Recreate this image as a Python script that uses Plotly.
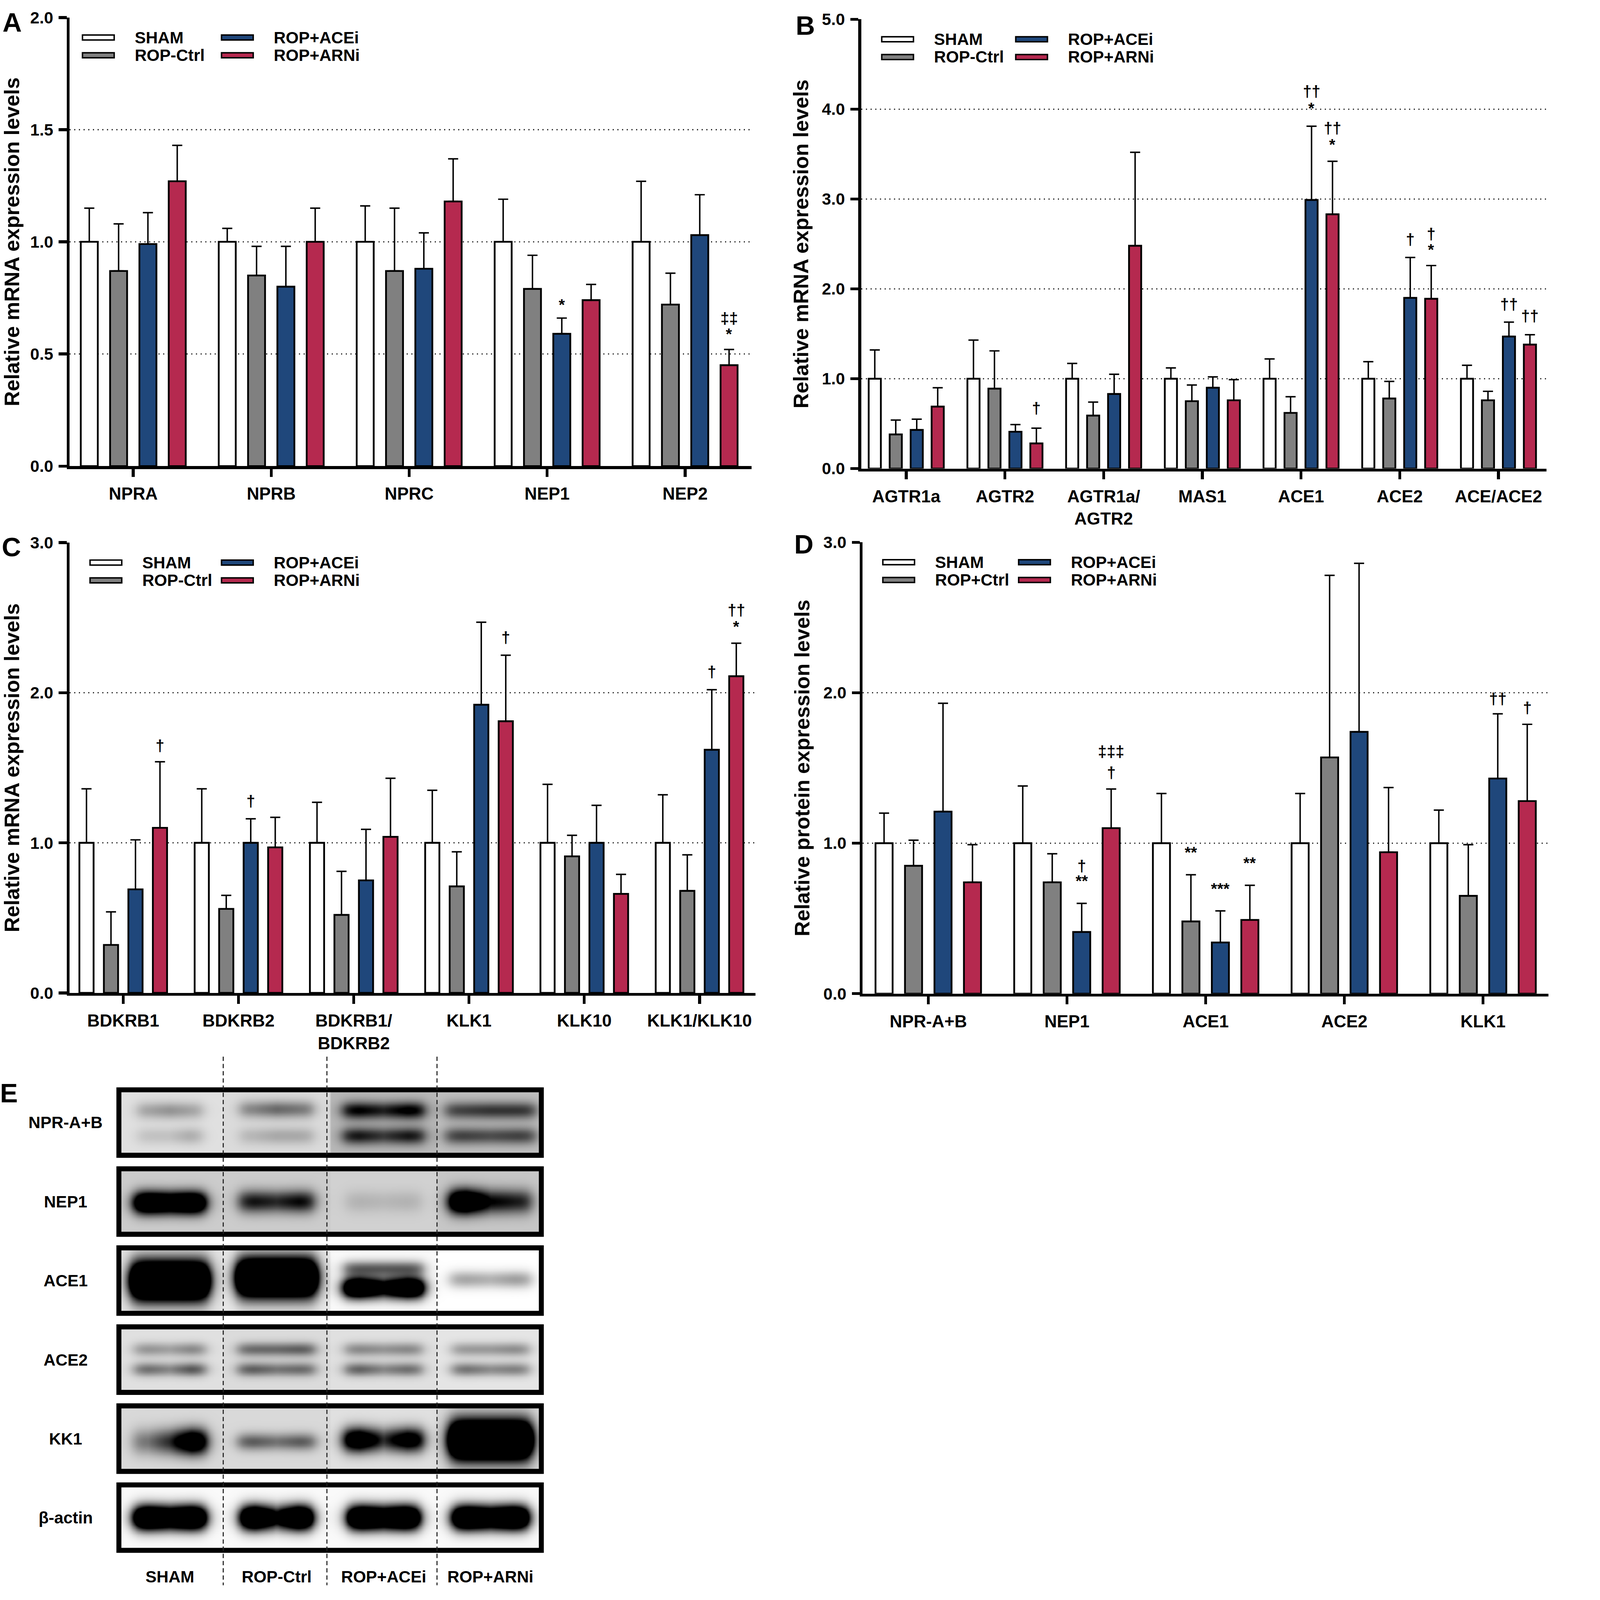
import numpy as np
import plotly.graph_objects as go

W, H = 4299, 4442
FONT = "Liberation Sans, Arial, Helvetica, sans-serif"

groups_mrna = ["SHAM", "ROP-Ctrl", "ROP+ACEi", "ROP+ARNi"]
groups_prot = ["SHAM", "ROP+Ctrl", "ROP+ACEi", "ROP+ARNi"]
bar_colors = ["#ffffff", "#808080", "#1f477b", "#b5294f"]

# ---------------- Panel A ----------------
a_cats = ["NPRA", "NPRB", "NPRC", "NEP1", "NEP2"]
a_sham = [1.00, 1.00, 1.00, 1.00, 1.00]
a_ctrl = [0.87, 0.85, 0.87, 0.79, 0.72]
a_acei = [0.99, 0.80, 0.88, 0.59, 1.03]
a_arni = [1.27, 1.00, 1.18, 0.74, 0.45]
a_sham_e = [0.15, 0.06, 0.16, 0.19, 0.27]
a_ctrl_e = [0.21, 0.13, 0.28, 0.15, 0.14]
a_acei_e = [0.14, 0.18, 0.16, 0.07, 0.18]
a_arni_e = [0.16, 0.15, 0.19, 0.07, 0.07]
a_marks = [("NEP1", 2, "*", 0.72), ("NEP2", 3, "*", 0.59), ("NEP2", 3, "‡‡", 0.66)]

# ---------------- Panel B ----------------
b_cats = ["AGTR1a", "AGTR2", "AGTR1a/<br>AGTR2", "MAS1", "ACE1", "ACE2", "ACE/ACE2"]
b_sham = [1.00, 1.00, 1.00, 1.00, 1.00, 1.00, 1.00]
b_ctrl = [0.38, 0.89, 0.59, 0.75, 0.62, 0.78, 0.76]
b_acei = [0.43, 0.41, 0.83, 0.90, 2.99, 1.90, 1.47]
b_arni = [0.69, 0.28, 2.48, 0.76, 2.83, 1.89, 1.38]
b_sham_e = [0.32, 0.43, 0.17, 0.12, 0.22, 0.19, 0.15]
b_ctrl_e = [0.16, 0.42, 0.15, 0.18, 0.18, 0.19, 0.10]
b_acei_e = [0.12, 0.08, 0.22, 0.12, 0.82, 0.45, 0.16]
b_arni_e = [0.21, 0.17, 1.04, 0.23, 0.59, 0.37, 0.11]
b_marks = [("AGTR2", 3, "†", 0.67),
           ("ACE1", 2, "*", 4.01), ("ACE1", 2, "††", 4.20),
           ("ACE1", 3, "*", 3.61), ("ACE1", 3, "††", 3.79),
           ("ACE2", 2, "†", 2.55),
           ("ACE2", 3, "*", 2.44), ("ACE2", 3, "†", 2.61),
           ("ACE/ACE2", 2, "††", 1.83), ("ACE/ACE2", 3, "††", 1.70)]

# ---------------- Panel C ----------------
c_cats = ["BDKRB1", "BDKRB2", "BDKRB1/<br>BDKRB2", "KLK1", "KLK10", "KLK1/KLK10"]
c_sham = [1.00, 1.00, 1.00, 1.00, 1.00, 1.00]
c_ctrl = [0.32, 0.56, 0.52, 0.71, 0.91, 0.68]
c_acei = [0.69, 1.00, 0.75, 1.92, 1.00, 1.62]
c_arni = [1.10, 0.97, 1.04, 1.81, 0.66, 2.11]
c_sham_e = [0.36, 0.36, 0.27, 0.35, 0.39, 0.32]
c_ctrl_e = [0.22, 0.09, 0.29, 0.23, 0.14, 0.24]
c_acei_e = [0.33, 0.16, 0.34, 0.55, 0.25, 0.40]
c_arni_e = [0.44, 0.20, 0.39, 0.44, 0.13, 0.22]
c_marks = [("BDKRB1", 3, "†", 1.65), ("BDKRB2", 2, "†", 1.28),
           ("KLK1", 3, "†", 2.37), ("KLK1/KLK10", 2, "†", 2.14),
           ("KLK1/KLK10", 3, "*", 2.44), ("KLK1/KLK10", 3, "††", 2.55)]

# ---------------- Panel D ----------------
d_cats = ["NPR-A+B", "NEP1", "ACE1", "ACE2", "KLK1"]
d_sham = [1.00, 1.00, 1.00, 1.00, 1.00]
d_ctrl = [0.85, 0.74, 0.48, 1.57, 0.65]
d_acei = [1.21, 0.41, 0.34, 1.74, 1.43]
d_arni = [0.74, 1.10, 0.49, 0.94, 1.28]
d_sham_e = [0.20, 0.38, 0.33, 0.33, 0.22]
d_ctrl_e = [0.17, 0.19, 0.31, 1.21, 0.34]
d_acei_e = [0.72, 0.19, 0.21, 1.12, 0.43]
d_arni_e = [0.25, 0.26, 0.23, 0.43, 0.51]
d_marks = [("NEP1", 2, "**", 0.75), ("NEP1", 2, "†", 0.85),
           ("NEP1", 3, "†", 1.47), ("NEP1", 3, "‡‡‡", 1.61),
           ("ACE1", 1, "**", 0.94), ("ACE1", 2, "***", 0.70), ("ACE1", 3, "**", 0.87),
           ("KLK1", 2, "††", 1.96), ("KLK1", 3, "†", 1.90)]

# ---------------- Panel E (western blot) ----------------
blot_rows = ["NPR-A+B", "NEP1", "ACE1", "ACE2", "KK1", "β-actin"]
blot_lanes = ["SHAM", "ROP-Ctrl", "ROP+ACEi", "ROP+ARNi"]
# lane background darkness per row
blot_bg = [[0.12, 0.14, 0.28, 0.25],
           [0.20, 0.20, 0.18, 0.22],
           [0.10, 0.08, 0.02, 0.00],
           [0.12, 0.14, 0.12, 0.10],
           [0.15, 0.15, 0.12, 0.15],
           [0.02, 0.02, 0.02, 0.02]]
# bands: (lane, vertical centre, vertical spread, darkness left, mid, right, half width)
blot_bands = [
    [(0, 0.30, 0.10, 0.25, 0.30, 0.25, 0.30), (0, 0.72, 0.10, 0.12, 0.12, 0.20, 0.30),
     (1, 0.28, 0.10, 0.35, 0.45, 0.40, 0.34), (1, 0.72, 0.10, 0.15, 0.20, 0.20, 0.34),
     (2, 0.30, 0.10, 0.75, 0.60, 0.80, 0.38), (2, 0.72, 0.10, 0.65, 0.50, 0.65, 0.38),
     (3, 0.30, 0.10, 0.50, 0.55, 0.55, 0.42), (3, 0.72, 0.10, 0.50, 0.45, 0.50, 0.42)],
    [(0, 0.52, 0.13, 1.60, 1.40, 1.60, 0.33), (1, 0.50, 0.13, 0.75, 0.65, 0.80, 0.35),
     (2, 0.50, 0.13, 0.12, 0.10, 0.12, 0.35), (3, 0.50, 0.14, 1.60, 0.80, 0.70, 0.38)],
    [(0, 0.50, 0.22, 2.50, 2.50, 2.50, 0.36), (1, 0.45, 0.22, 2.50, 2.50, 2.50, 0.37),
     (2, 0.62, 0.12, 2.00, 1.30, 2.00, 0.37), (2, 0.30, 0.09, 0.60, 0.60, 0.60, 0.37),
     (3, 0.48, 0.10, 0.35, 0.30, 0.38, 0.38)],
    [(0, 0.33, 0.08, 0.30, 0.25, 0.35, 0.33), (0, 0.66, 0.08, 0.45, 0.35, 0.55, 0.33),
     (1, 0.33, 0.08, 0.45, 0.45, 0.50, 0.36), (1, 0.66, 0.08, 0.50, 0.40, 0.45, 0.36),
     (2, 0.33, 0.08, 0.35, 0.30, 0.35, 0.36), (2, 0.66, 0.08, 0.50, 0.35, 0.45, 0.36),
     (3, 0.33, 0.08, 0.30, 0.30, 0.35, 0.36), (3, 0.66, 0.08, 0.45, 0.35, 0.40, 0.36)],
    [(0, 0.55, 0.15, 0.40, 0.70, 1.40, 0.34), (1, 0.55, 0.10, 0.50, 0.40, 0.50, 0.36),
     (2, 0.52, 0.14, 1.40, 0.70, 1.20, 0.37), (3, 0.52, 0.22, 2.50, 2.50, 2.50, 0.38)],
    [(0, 0.50, 0.14, 2.20, 1.80, 2.20, 0.33), (1, 0.50, 0.14, 2.20, 1.20, 2.20, 0.33),
     (2, 0.50, 0.14, 2.20, 1.80, 2.20, 0.33), (3, 0.50, 0.14, 2.20, 1.80, 2.20, 0.35)],
]


def pxx(x):
    return x / W


def pxy(y):
    return 1 - y / H


BARGAP = 0.15
GROUPGAP = 0.42
SLOT = (1 - BARGAP) / 4

panels = [
    dict(ax="", cats=a_cats, vals=[a_sham, a_ctrl, a_acei, a_arni],
         errs=[a_sham_e, a_ctrl_e, a_acei_e, a_arni_e], groups=groups_mrna,
         xpx=(193, 2087), ypx=(23, 1283), xr=[-0.462, 4.483], yr=[0, 2.0],
         ticks=[0, 0.5, 1.0, 1.5, 2.0], grid=[0.5, 1.0, 1.5],
         title="Relative mRNA expression levels", marks=a_marks,
         leg=(34, 179, 420, 565), letter=("A", 33, 37)),
    dict(ax="2", cats=b_cats, vals=[b_sham, b_ctrl, b_acei, b_arni],
         errs=[b_sham_e, b_ctrl_e, b_acei_e, b_arni_e], groups=groups_mrna,
         xpx=(2391, 4293), ypx=(28, 1290), xr=[-0.456, 6.485], yr=[0, 5.0],
         ticks=[0, 1, 2, 3, 4, 5], grid=[1, 2, 3, 4],
         title="Relative mRNA expression levels", marks=b_marks,
         leg=(55, 200, 427, 572), letter=("B", 2235, 45)),
    dict(ax="3", cats=c_cats, vals=[c_sham, c_ctrl, c_acei, c_arni],
         errs=[c_sham_e, c_ctrl_e, c_acei_e, c_arni_e], groups=groups_mrna,
         xpx=(193, 2097), ypx=(1498, 2763), xr=[-0.466, 5.484], yr=[0, 3.0],
         ticks=[0, 1, 2, 3], grid=[1, 2],
         title="Relative mRNA expression levels", marks=c_marks,
         leg=(55, 200, 420, 565), letter=("C", 31, 1510)),
    dict(ax="4", cats=d_cats, vals=[d_sham, d_ctrl, d_acei, d_arni],
         errs=[d_sham_e, d_ctrl_e, d_acei_e, d_arni_e], groups=groups_prot,
         xpx=(2395, 4299), ypx=(1497, 2765), xr=[-0.473, 4.472], yr=[0, 3.0],
         ticks=[0, 1, 2, 3], grid=[1, 2],
         title="Relative protein expression levels", marks=d_marks,
         leg=(54, 199, 431, 576), letter=("D", 2231, 1503)),
]

fig = go.Figure()
shapes = []
annotations = []
layout_axes = {}

for p in panels:
    sx = p["ax"]
    xname = "x" + sx
    yname = "y" + sx
    for j in range(4):
        fig.add_trace(go.Bar(
            x=p["cats"], y=p["vals"][j], name=p["groups"][j],
            xaxis=xname, yaxis=yname, showlegend=False,
            marker=dict(color=bar_colors[j], line=dict(color="black", width=5)),
            error_y=dict(type="data", symmetric=False, array=p["errs"][j],
                         arrayminus=[0] * len(p["cats"]), color="black",
                         thickness=4, width=14),
        ))
    x0, x1 = p["xpx"]
    y0, y1 = p["ypx"]
    layout_axes["xaxis" + sx] = dict(
        domain=[pxx(x0), pxx(x1)], anchor=yname, range=p["xr"], type="category",
        showline=True, linecolor="black", linewidth=8, ticks="outside", ticklen=22,
        tickwidth=8, tickcolor="black", showgrid=False, zeroline=False,
        tickfont=dict(family=FONT, size=48, color="black", weight="bold"),
        ticklabelstandoff=6,
    )
    layout_axes["yaxis" + sx] = dict(
        domain=[pxy(y1), pxy(y0)], anchor=xname, range=p["yr"],
        tickvals=p["ticks"], ticktext=["%.1f" % t for t in p["ticks"]],
        showline=True, linecolor="black", linewidth=8, ticks="outside", ticklen=22,
        tickwidth=8, tickcolor="black", showgrid=False, zeroline=False,
        tickfont=dict(family=FONT, size=46, color="black", weight="bold"),
        ticklabelstandoff=6,
        title=dict(text=p["title"], standoff=22,
                   font=dict(family=FONT, size=58, color="black", weight="bold")),
    )
    for g in p["grid"]:
        shapes.append(dict(type="line", xref=xname + " domain", yref=yname,
                           x0=0, x1=1, y0=g, y1=g, layer="below",
                           line=dict(color="black", width=3, dash="3px,10px")))
    # significance marks
    for cat, j, txt, yv in p["marks"]:
        xi = p["cats"].index(cat) + (j - 1.5) * SLOT
        annotations.append(dict(x=xi, y=yv, xref=xname, yref=yname, text=txt,
                                showarrow=False, xanchor="center", yanchor="middle",
                                font=dict(family=FONT, size=44, color="black",
                                          weight="bold")))
    # legend (two columns)
    s1, t1, s2, t2 = p["leg"]
    rows = [y0 + 56, y0 + 106]
    for j in range(4):
        col, row = divmod(j, 2)
        sxp = x0 + (s1 if col == 0 else s2)
        txp = x0 + (t1 if col == 0 else t2)
        yc = rows[row]
        shapes.append(dict(type="rect", xref="paper", yref="paper",
                           x0=pxx(sxp + 2), x1=pxx(sxp + 90), y0=pxy(yc + 7), y1=pxy(yc - 7),
                           fillcolor=bar_colors[j], line=dict(color="black", width=4)))
        annotations.append(dict(x=pxx(txp), y=pxy(yc), xref="paper", yref="paper",
                                text=p["groups"][j], showarrow=False, xanchor="left",
                                yanchor="middle",
                                font=dict(family=FONT, size=46, color="black",
                                          weight="bold")))
    lt, lx, ly = p["letter"]
    annotations.append(dict(x=pxx(lx), y=pxy(ly), xref="paper", yref="paper", text=lt,
                            showarrow=False, xanchor="center", yanchor="middle",
                            font=dict(family=FONT, size=74, color="black", weight="bold")))

# ---------------- Panel E drawing ----------------
E_X0, E_X1 = 323, 1510
E_Y0, E_Y1 = 3028, 4336
PITCH = 222.0
BOXH = 198.0 / PITCH
BORDER = 14.0
bx = BORDER / ((E_X1 - E_X0) / 4.0)
by = BORDER / PITCH

for k in range(len(blot_rows)):
    nx, ny = 220, 50
    u = np.linspace(bx, 4 - bx, nx)
    v = np.linspace(0, 1, ny)
    U, V = np.meshgrid(u, v)
    lane = np.clip(np.floor(U).astype(int), 0, 3)
    Z = np.array(blot_bg[k])[lane]
    for (ln, vc, sv, al, am, ar, hw) in blot_bands[k]:
        loc = U - (ln + 0.5)
        amp = np.interp(loc, [-hw * 0.6, 0, hw * 0.6], [al, am, ar])
        win = 1 / (1 + np.exp((np.abs(loc) - hw) / 0.035))
        Z = Z + amp * win * np.exp(-0.5 * ((V - vc) / sv) ** 2)
    Z = np.clip(Z, 0, 1.2)
    yy = k + by + v * (BOXH - 2 * by)
    fig.add_trace(go.Heatmap(x=u, y=yy, z=Z, xaxis="x5", yaxis="y5", zmin=0, zmax=1,
                             colorscale=[[0, "#ffffff"], [1, "#000000"]],
                             zsmooth="best", showscale=False, hoverinfo="skip"))
    shapes.append(dict(type="rect", xref="x5", yref="y5",
                       x0=bx / 2, x1=4 - bx / 2, y0=k + by / 2, y1=k + BOXH - by / 2,
                       line=dict(color="black", width=BORDER)))
    annotations.append(dict(x=pxx(182), y=k + BOXH / 2, xref="paper", yref="y5",
                            text=blot_rows[k], showarrow=False, xanchor="center",
                            yanchor="middle",
                            font=dict(family=FONT, size=46, color="black", weight="bold")))

for xl in [1, 1.97, 3]:
    shapes.append(dict(type="line", xref="x5", yref="paper", x0=xl, x1=xl,
                       y0=pxy(2942), y1=pxy(4427),
                       line=dict(color="#222222", width=3, dash="12px,8px")))

for i, lab in enumerate(blot_lanes):
    annotations.append(dict(x=i + 0.5, y=pxy(4403), xref="x5", yref="paper", text=lab,
                            showarrow=False, xanchor="center", yanchor="middle",
                            font=dict(family=FONT, size=46, color="black", weight="bold")))
annotations.append(dict(x=pxx(24), y=pxy(3044), xref="paper", yref="paper", text="E",
                        showarrow=False, xanchor="center", yanchor="middle",
                        font=dict(family=FONT, size=74, color="black", weight="bold")))

layout_axes["xaxis5"] = dict(domain=[pxx(E_X0), pxx(E_X1)], anchor="y5", range=[0, 4],
                             visible=False, showgrid=False, zeroline=False)
layout_axes["yaxis5"] = dict(domain=[pxy(E_Y1), pxy(E_Y0)], anchor="x5",
                             range=[(E_Y1 - E_Y0) / PITCH, 0],
                             visible=False, showgrid=False, zeroline=False)

fig.update_layout(
    width=W, height=H, margin=dict(l=0, r=0, t=0, b=0),
    paper_bgcolor="white", plot_bgcolor="white",
    barmode="group", bargap=BARGAP, bargroupgap=GROUPGAP,
    showlegend=False, shapes=shapes, annotations=annotations,
    font=dict(family=FONT, color="black"),
    **layout_axes,
)

# fit the fixed-size figure into whatever viewport the page is opened in
fit_js = """
(function(){
  var gd = document.getElementById('{plot_id}');
  document.documentElement.style.margin = '0';
  document.body.style.margin = '0';
  document.body.style.overflow = 'hidden';
  var s = Math.min(window.innerWidth / %d, window.innerHeight / %d);
  if (s < 1) {
    gd.style.transformOrigin = '0 0';
    gd.style.transform = 'scale(' + s + ')';
  }
})();
""" % (W, H)

fig.write_html("out.html", post_script=fit_js, config={"displayModeBar": False})
